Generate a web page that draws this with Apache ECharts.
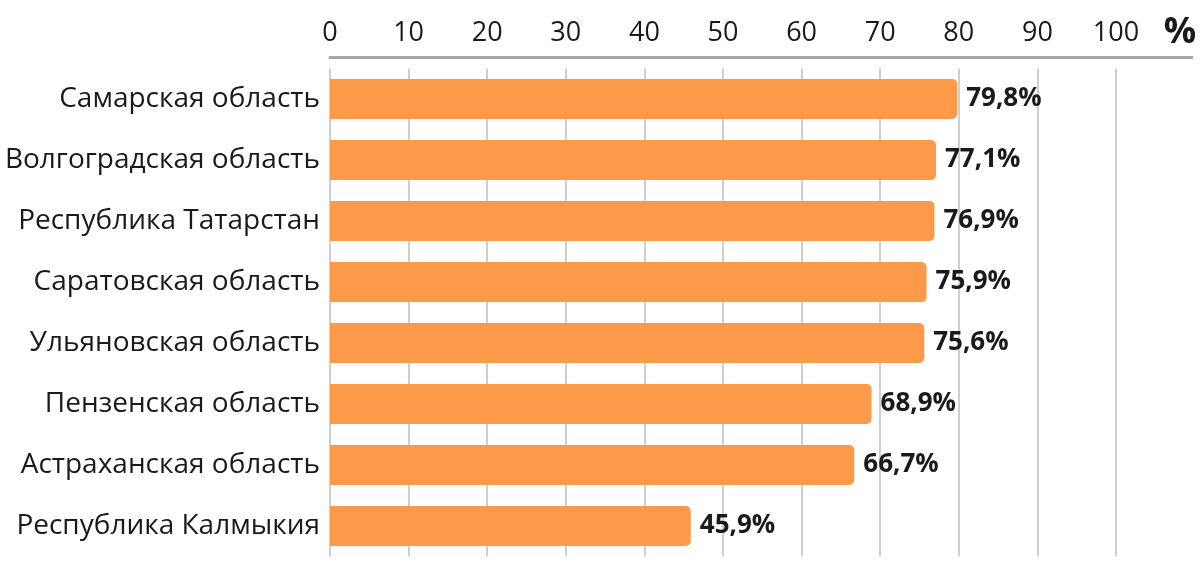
<!DOCTYPE html>
<html><head><meta charset="utf-8">
<script src="https://cdn.jsdelivr.net/npm/echarts@6/dist/echarts.min.js"></script>
<style>html,body{margin:0;padding:0;background:#fff}#c{width:1200px;height:567px}</style>
</head><body><div id="c"></div>
<script>
const categories = ["Самарская область","Волгоградская область","Республика Татарстан","Саратовская область","Ульяновская область","Пензенская область","Астраханская область","Республика Калмыкия"];
const values = [79.8, 77.1, 76.9, 75.9, 75.6, 68.9, 66.7, 45.9];
const xTicks = [0,10,20,30,40,50,60,70,80,90,100];
const unitLabel = "%";

const FONT = "Open Sans";
const chart = echarts.init(document.getElementById('c'), null, {renderer:'canvas'});
chart.setOption({
  animation:false,
  backgroundColor:'#fff',
  grid:{left:330, right:84, top:68.5, bottom:10.5, containLabel:false},
  xAxis:{
    type:'value', position:'top', min:xTicks[0], max:xTicks[xTicks.length-1], interval:10,
    offset:11,
    axisLine:{show:true, lineStyle:{color:'#a6a6a6', width:3}},
    axisTick:{show:false},
    axisLabel:{margin:11, color:'#1a1a1a', fontSize:27, fontFamily:FONT},
    splitLine:{show:true, lineStyle:{color:'#cfcfcf', width:2}}
  },
  yAxis:{
    type:'category', data:categories, inverse:true,
    axisLine:{show:false}, axisTick:{show:false},
    axisLabel:{margin:10, color:'#1a1a1a', fontSize:28, fontFamily:FONT}
  },
  series:[{
    type:'bar', data:values, barWidth:40,
    itemStyle:{color:'#fd9a4a', borderRadius:[0,5,5,0]},
    label:{show:true, position:'right', distance:9, color:'#1a1a1a', fontSize:26, fontWeight:'bold', fontFamily:FONT,
      formatter:p=>String(p.value).replace('.',',')+'%'}
  }]
});
const x100 = chart.convertToPixel({xAxisIndex:0}, xTicks[xTicks.length-1]);
const yLine = 68.5-11;
chart.setOption({graphic:[
  {type:'line', shape:{x1:x100, y1:yLine, x2:1193, y2:yLine}, style:{stroke:'#a6a6a6', lineWidth:3}},
  {type:'text', x:1180, y:33, style:{text:unitLabel, fill:'#1a1a1a', font:'bold 36px "'+FONT+'"', textAlign:'center', textVerticalAlign:'middle'}}
]});
</script></body></html>
